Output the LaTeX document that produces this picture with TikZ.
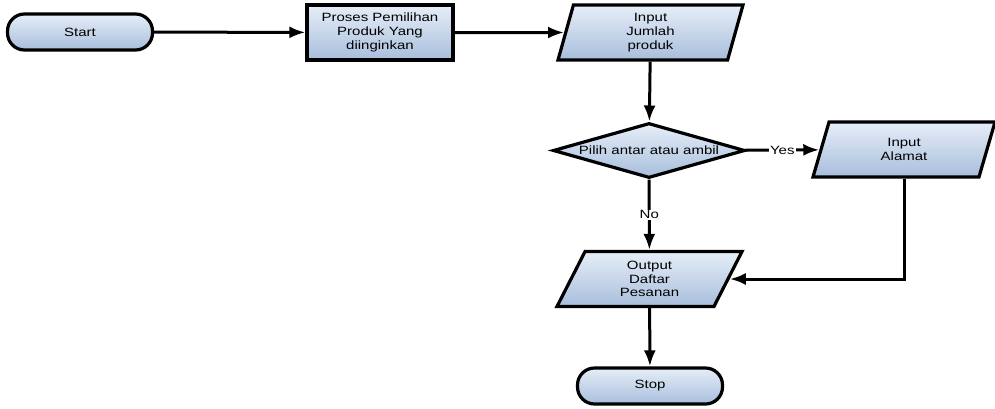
\documentclass[tikz,border=0pt]{standalone}
\usepackage{fontspec}
\setmainfont{Liberation Sans}[FakeStretch=1.25]
\usetikzlibrary{shapes.geometric, arrows.meta}
\definecolor{shapetop}{HTML}{E6EEF8}
\definecolor{shapebot}{HTML}{A8BEDC}

\begin{document}
\begin{tikzpicture}[x=1pt,y=-1pt,>={Latex[length=16pt,width=12pt]},
    every node/.style={font=\fontsize{12}{13.7}\selectfont},
    flowbox/.style={draw, line width=3.2pt, top color=shapetop, bottom color=shapebot, align=center, inner sep=0pt},
    terminal/.style={flowbox, rectangle, rounded corners=17pt, minimum width=145pt, minimum height=36pt},
    process/.style={flowbox, rectangle, minimum width=146pt, minimum height=55pt},
    io/.style={flowbox, trapezium, trapezium stretches body, minimum width=185pt, minimum height=55pt},
    decision/.style={flowbox, diamond, aspect=3.5, minimum width=192pt, minimum height=55pt},
    link/.style={->, line width=3pt}]
    \useasboundingbox (0,0) rectangle (995,408);

    % the shapes
    \node[terminal] (start) at (80,32) {Start};
    \node[process] (pilih) at (380,32.5) {Proses Pemilihan\\Produk Yang\\diinginkan};
    \node[io, trapezium left angle=68, trapezium right angle=112] (jumlah) at (650.5,32.5) {Input\\Jumlah\\produk};
    \node[decision] (antar) at (649,150.5) {Pilih antar atau ambil};
    \node[io, trapezium left angle=54, trapezium right angle=126, minimum width=182pt] (alamat) at (904,149.5) {Input\\Alamat};
    \node[io, trapezium left angle=52, trapezium right angle=128] (daftar) at (649.5,279) {Output\\Daftar\\Pesanan};
    \node[terminal] (stop) at (650,386) {Stop};

    % the links
    \draw[link] (start) -- (pilih);
    \draw[link] (pilih) -- (jumlah);
    \draw[link] (jumlah) -- (antar);
    \draw[link] (antar) -- node[fill=white, inner sep=1pt] {Yes} (alamat);
    \draw[link] (antar) -- node[fill=white, inner sep=1pt] {No} (daftar);
    \draw[link] (alamat.south) |- (daftar.east);
    \draw[link] (daftar) -- (stop);

\end{tikzpicture}
\end{document}
